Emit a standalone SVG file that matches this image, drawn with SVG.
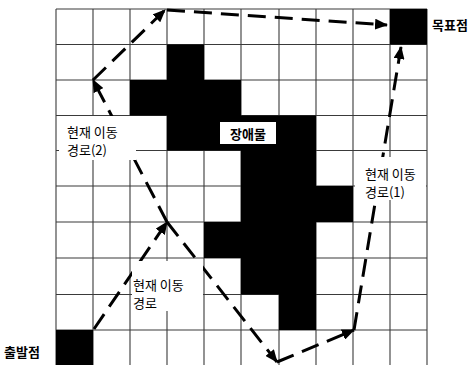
<svg xmlns="http://www.w3.org/2000/svg" width="474" height="365" viewBox="0 0 474 365">
<style>
.grid line{stroke:#3a3a3a;stroke-width:1.1}
.blk{fill:#000}
.box{fill:#fff}
.t{font-family:"Noto Sans CJK KR","Noto Sans",sans-serif;font-size:13px;fill:#000}
.b{font-weight:bold}
.c line{stroke:#000;stroke-width:3;stroke-dasharray:18 9;fill:none;marker-end:url(#ah)}
</style>
<defs>
<marker id="ah" markerUnits="userSpaceOnUse" markerWidth="13" markerHeight="11" refX="12" refY="5.5" orient="auto" viewBox="0 0 13 11">
<path d="M0,0 L13,5.5 L0,11 Z" fill="#000"/>
</marker>
</defs>
<rect width="474" height="365" fill="#fff"/>
<g id="grid" class="grid">
<line x1="56" y1="9" x2="56" y2="365"/><line x1="93" y1="9" x2="93" y2="365"/><line x1="130" y1="9" x2="130" y2="365"/><line x1="167" y1="9" x2="167" y2="365"/><line x1="204" y1="9" x2="204" y2="365"/><line x1="241" y1="9" x2="241" y2="365"/><line x1="279" y1="9" x2="279" y2="365"/><line x1="316" y1="9" x2="316" y2="365"/><line x1="353" y1="9" x2="353" y2="365"/><line x1="390" y1="9" x2="390" y2="365"/><line x1="427" y1="9" x2="427" y2="365"/>
<line x1="56" y1="9" x2="427" y2="9"/><line x1="56" y1="44.5" x2="427" y2="44.5"/><line x1="56" y1="80" x2="427" y2="80"/><line x1="56" y1="115.5" x2="427" y2="115.5"/><line x1="56" y1="150.5" x2="427" y2="150.5"/><line x1="56" y1="186" x2="427" y2="186"/><line x1="56" y1="222" x2="427" y2="222"/><line x1="56" y1="258" x2="427" y2="258"/><line x1="56" y1="294.5" x2="427" y2="294.5"/><line x1="56" y1="330" x2="427" y2="330"/>
</g>
<g id="obstacle">
<path class="blk" d="M167,44.5 H204 V80 H241 V115.5 H316 V186 H353 V222 H316 V330 H279 V294.5 H241 V258 H204 V222 H241 V150.5 H167 V115.5 H130 V80 H167 Z"/>
<rect class="box" x="220" y="122" width="56" height="22"/>
<text class="t b" x="248" y="138.5" text-anchor="middle">장애물</text>
</g>
<g id="goal">
<rect class="blk" x="390" y="9" width="37" height="35.5"/>
<text class="t b" x="432" y="30">목표점</text>
</g>
<g id="start">
<rect class="blk" x="56" y="330" width="37" height="35"/>
<text class="t b" x="4" y="357">출발점</text>
</g>
<g id="connectors" class="c">
<line x1="94" y1="329" x2="167" y2="222"/>
<line x1="167" y1="222" x2="93" y2="80"/>
<line x1="93" y1="80" x2="165" y2="10"/>
<line x1="167" y1="10" x2="387" y2="25"/>
<line x1="167" y1="222" x2="277" y2="362"/>
<line x1="277" y1="362" x2="354" y2="330"/>
<line x1="354" y1="330" x2="401" y2="47"/>
</g>
<g id="label-path2">
<rect class="box" x="59" y="116" width="77" height="44"/>
<text class="t" x="67" y="137">현재 이동</text>
<text class="t" x="67" y="155">경로(2)</text>
</g>
<g id="label-path1">
<rect class="box" x="355" y="157" width="71" height="43"/>
<text class="t" x="365" y="179">현재 이동</text>
<text class="t" x="365" y="197">경로(1)</text>
</g>
<g id="label-path">
<rect class="box" x="132" y="261" width="71" height="50"/>
<text class="t" x="133" y="290">현재 이동</text>
<text class="t" x="133" y="308">경로</text>
</g>
</svg>
